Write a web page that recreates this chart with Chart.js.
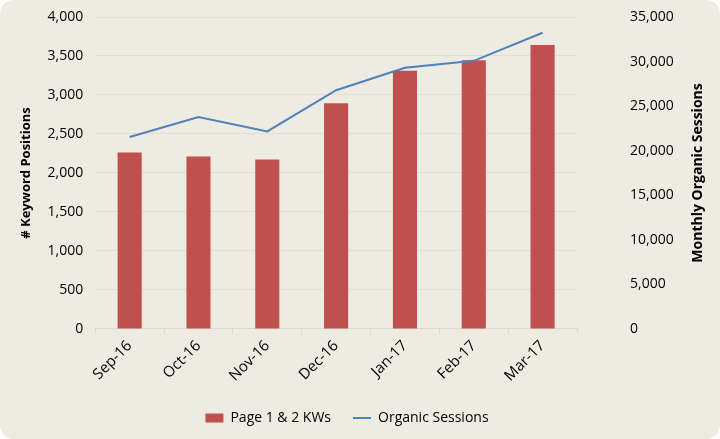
<!DOCTYPE html>
<html>
<head>
<meta charset="utf-8">
<script src="https://cdn.jsdelivr.net/npm/chart.js@4"></script>
<style>
  html, body { margin: 0; padding: 0; background: #ffffff; }
  #wrap { width: 720px; height: 439px; background: #eeebe2; border-radius: 14px; overflow: hidden; }
</style>
</head>
<body>
<div id="wrap"><canvas id="grafico" width="720" height="439"></canvas></div>
<script>
const meses = ['Sep-16', 'Oct-16', 'Nov-16', 'Dec-16', 'Jan-17', 'Feb-17', 'Mar-17'];
const palavrasChave = [2264, 2212, 2174, 2894, 3310, 3447, 3640];
const sessoes = [21530, 23780, 22170, 26785, 29300, 30085, 33235];
const ticksEsq = [0, 500, 1000, 1500, 2000, 2500, 3000, 3500, 4000];
const ticksDir = [0, 5000, 10000, 15000, 20000, 25000, 30000, 35000];
const tituloDir = 'Monthly Organic Sessions';

Chart.defaults.font.family = '"Open Sans", sans-serif';
Chart.defaults.color = '#000000';

// titulo do eixo direito lido de baixo para cima, como no original
const tituloDireito = {
    id: 'tituloDireito',
    afterDraw: function(chart) {
        const c = chart.ctx;
        const area = chart.chartArea;
        c.save();
        c.translate(chart.width - 22, (area.top + area.bottom) / 2);
        c.rotate(-Math.PI / 2);
        c.font = 'bold 14px "Open Sans", sans-serif';
        c.fillStyle = '#000000';
        c.textAlign = 'center';
        c.textBaseline = 'middle';
        c.fillText(tituloDir, 0, 0);
        c.restore();
    }
};

const ctx = document.getElementById('grafico').getContext('2d');
const grafico = new Chart(ctx, {
    type: 'bar',
    data: {
        labels: meses,
        datasets: [
            {
                type: 'line',
                label: 'Organic Sessions',
                data: sessoes,
                yAxisID: 'y2',
                borderColor: '#4f81bd',
                backgroundColor: '#4f81bd',
                borderWidth: 2,
                pointRadius: 0,
                pointStyle: 'line',
                tension: 0,
                order: 0
            },
            {
                label: 'Page 1 & 2 KWs',
                data: palavrasChave,
                yAxisID: 'y',
                backgroundColor: '#c0504d',
                pointStyle: 'rect',
                barPercentage: 0.35,
                categoryPercentage: 1,
                order: 1
            }
        ]
    },
    options: {
        responsive: false,
        animation: false,
        layout: { padding: { top: 17, left: 16, right: 42, bottom: 4 } },
        plugins: {
            legend: {
                position: 'bottom',
                reverse: true,
                labels: {
                    font: { size: 14 },
                    usePointStyle: true,
                    pointStyleWidth: 18,
                    boxHeight: 9,
                    padding: 22
                }
            },
            tooltip: { enabled: false }
        },
        scales: {
            x: {
                grid: { display: true, drawOnChartArea: false, color: '#dcd8ce', tickLength: 4, offset: true },
                border: { color: '#dcd8ce' },
                ticks: { maxRotation: 45, minRotation: 45, font: { size: 15 }, padding: 4 }
            },
            y: {
                position: 'left',
                min: 0,
                max: 4000,
                afterBuildTicks: function(axis) { axis.ticks = ticksEsq.map(v => ({ value: v })); },
                afterFit: function(axis) { axis.paddingTop = 8; },
                ticks: {
                    font: { size: 14 },
                    padding: 12,
                    callback: function(value) { return value.toLocaleString('en-US'); }
                },
                grid: { color: '#e2ded4', drawTicks: false },
                border: { display: false },
                title: { display: true, text: '# Keyword Positions', font: { size: 13, weight: 'bold' }, padding: 2 }
            },
            y2: {
                position: 'right',
                min: 0,
                max: 35000,
                afterBuildTicks: function(axis) { axis.ticks = ticksDir.map(v => ({ value: v })); },
                afterFit: function(axis) { axis.width = 101; axis.paddingTop = 8; axis.paddingBottom = 8; },
                ticks: {
                    font: { size: 14 },
                    padding: 45,
                    callback: function(value) { return value.toLocaleString('en-US'); }
                },
                grid: { display: false },
                border: { display: false }
            }
        }
    },
    plugins: [tituloDireito]
});
</script>
</body>
</html>
